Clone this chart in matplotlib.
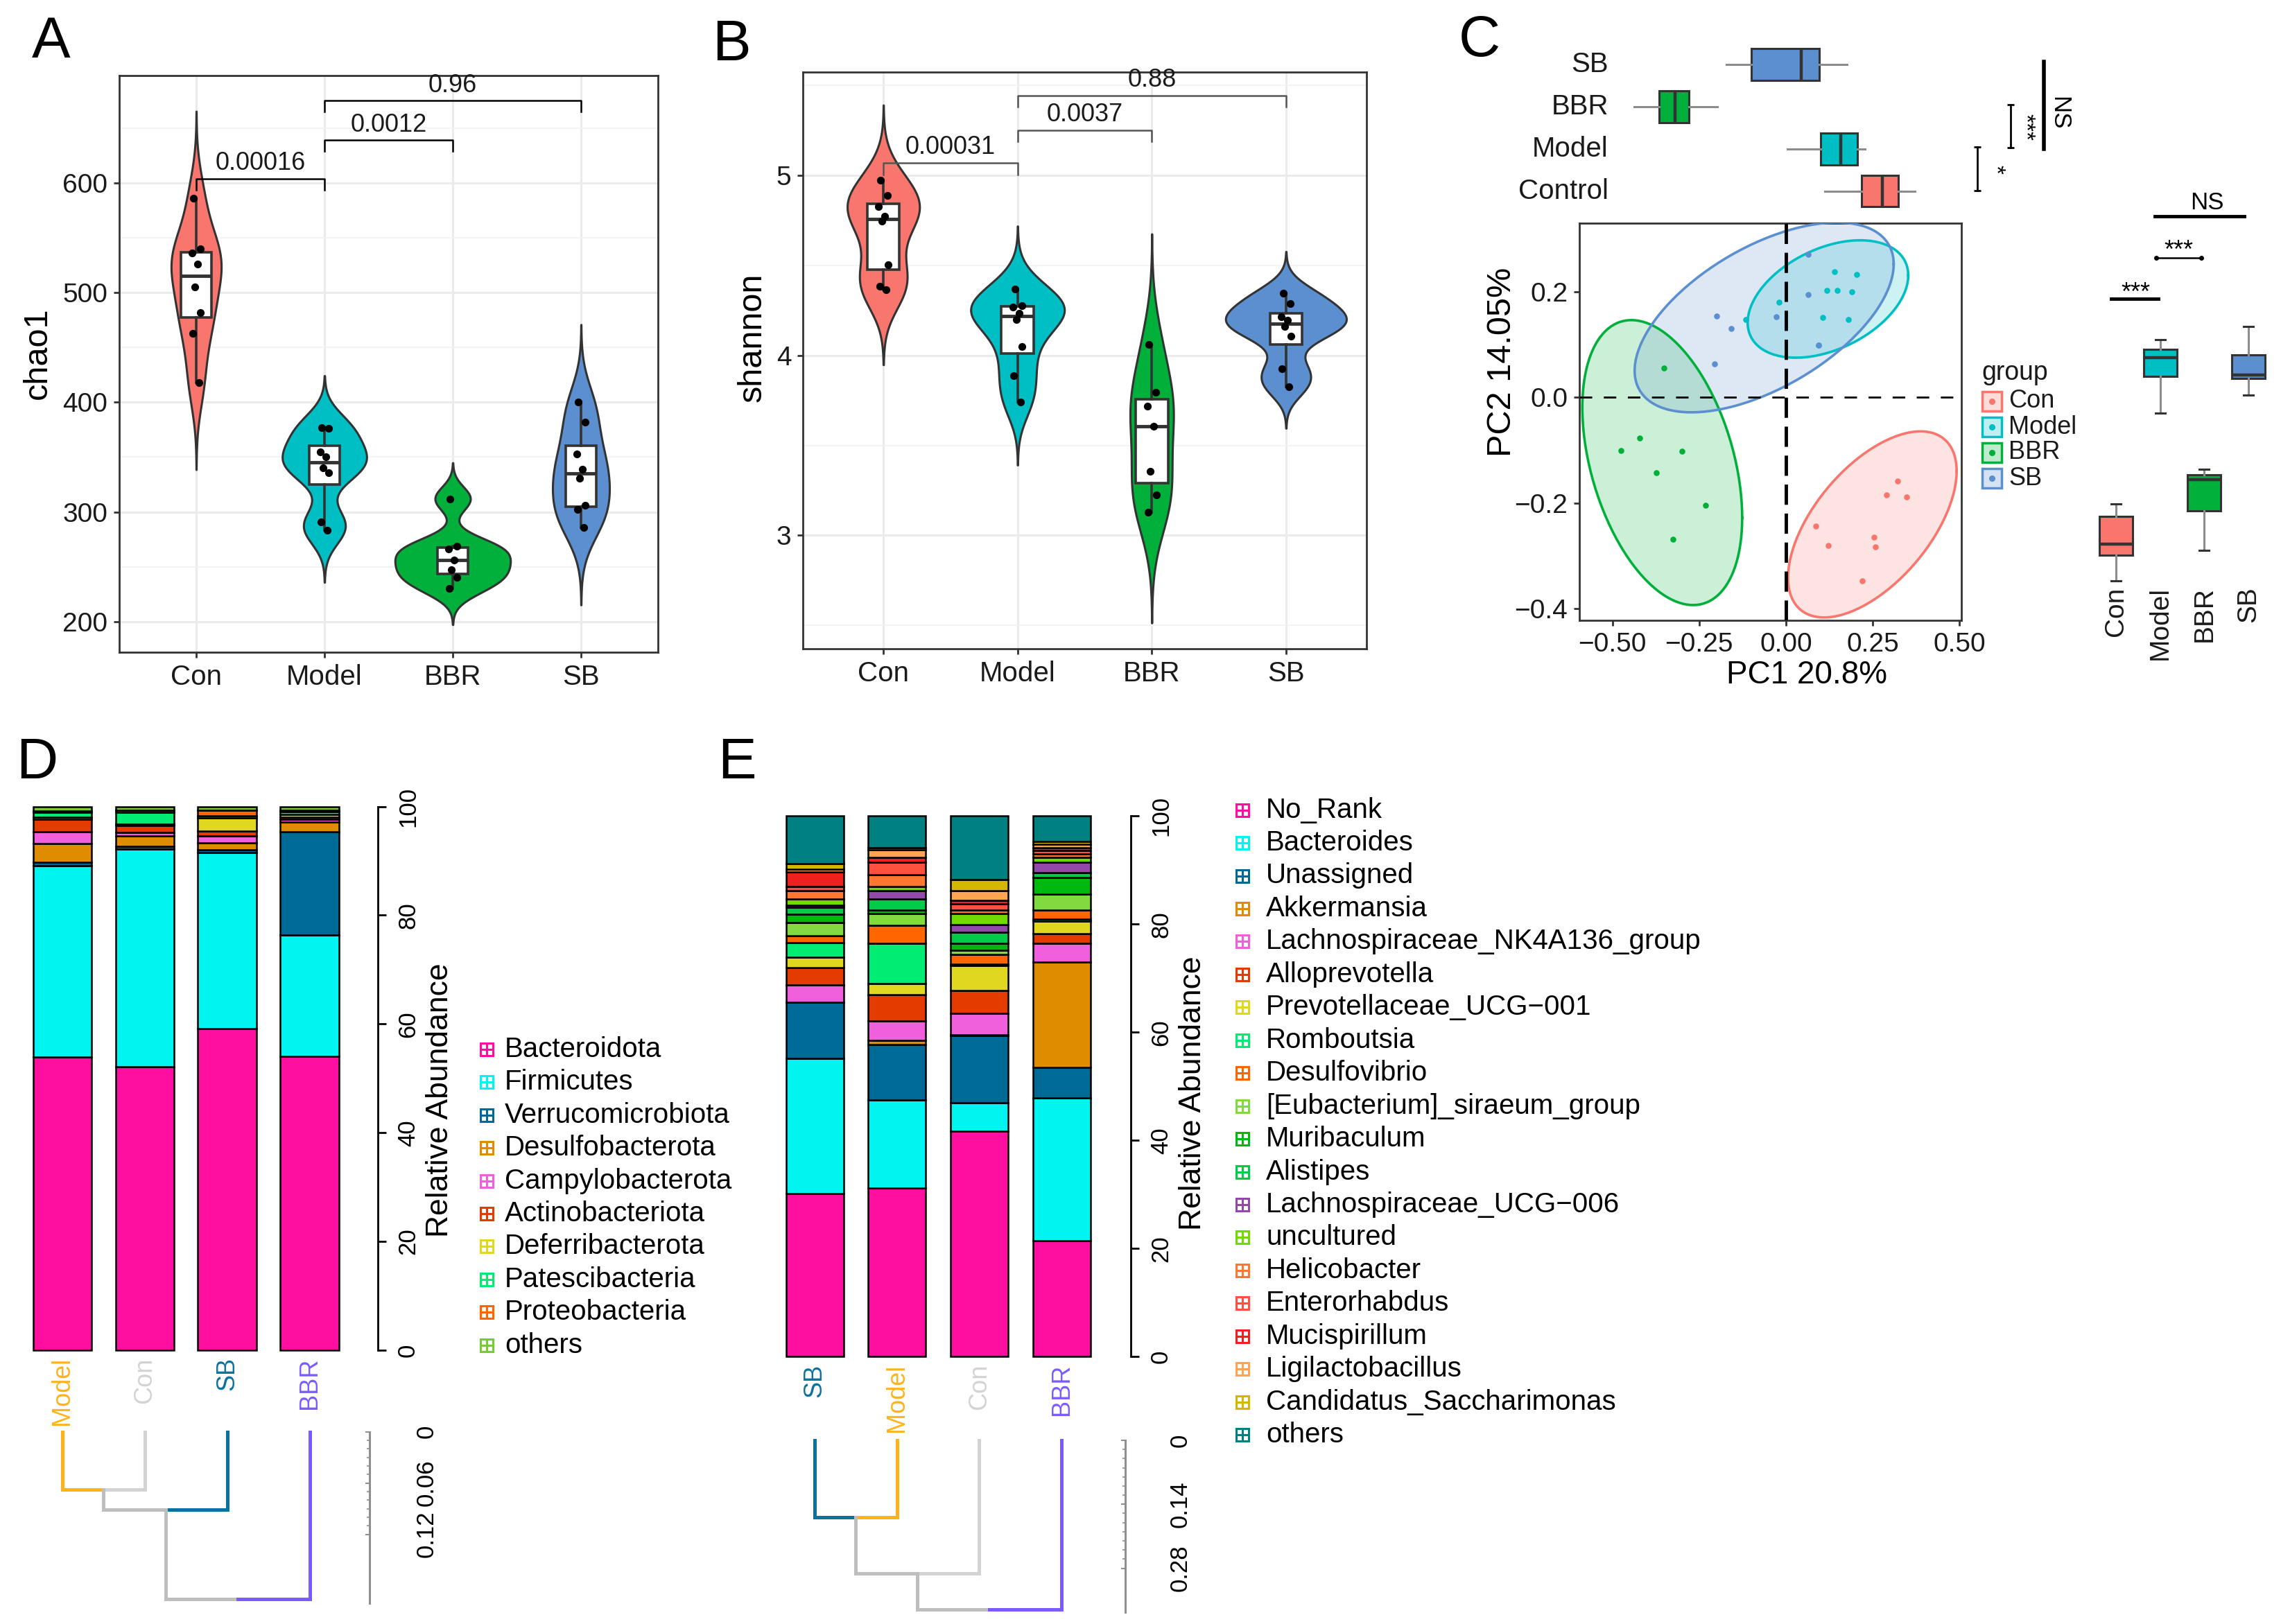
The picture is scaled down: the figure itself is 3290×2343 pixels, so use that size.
import numpy as np
import matplotlib.pyplot as plt
from matplotlib.patches import Rectangle
from matplotlib.transforms import blended_transform_factory

plt.rcParams['font.family'] = ['Liberation Sans', 'DejaVu Sans']
plt.rcParams['axes.unicode_minus'] = True

W, H = 3290, 2343
DPI = 100

# ---------------- A / B : alpha diversity ----------------
groups = ['Con', 'Model', 'BBR', 'SB']
grp_colors = ['#F8766D', '#00BFC4', '#00B03B', '#5B8FD0']

chao1_con = [586, 540, 536, 526, 505, 482, 463, 418]
chao1_model = [377, 376, 355, 350, 340, 336, 291, 283]
chao1_bbr = [312, 269, 266, 256, 247, 240, 230]
chao1_sb = [400, 382, 353, 339, 331, 306, 302, 286]

shannon_con = [4.975, 4.889, 4.827, 4.773, 4.745, 4.506, 4.383, 4.365]
shannon_model = [4.37, 4.276, 4.271, 4.235, 4.2, 4.05, 3.889, 3.74]
shannon_bbr = [4.062, 3.795, 3.72, 3.605, 3.358, 3.226, 3.127]
shannon_sb = [4.346, 4.289, 4.217, 4.197, 4.16, 4.106, 3.926, 3.827]

# (group i, group j, bracket height, p value)
chao1_tests = [(1, 2, 604, '0.00016'), (2, 3, 639, '0.0012'), (2, 4, 675, '0.96')]
shannon_tests = [(1, 2, 5.069, '0.00031'), (2, 3, 5.252, '0.0037'), (2, 4, 5.444, '0.88')]

# ---------------- C : PCoA ----------------
pc_con_x = [0.321, 0.290, 0.347, 0.086, 0.121, 0.253, 0.258, 0.220]
pc_con_y = [-0.158, -0.184, -0.189, -0.244, -0.280, -0.265, -0.283, -0.347]
pc_model_x = [0.139, 0.204, 0.118, 0.147, 0.190, -0.021, 0.106, -0.116, 0.179, 0.093]
pc_model_y = [0.238, 0.233, 0.203, 0.203, 0.200, 0.180, 0.152, 0.147, 0.147, 0.099]
pc_bbr_x = [-0.352, -0.421, -0.475, -0.299, -0.373, -0.231, -0.325]
pc_bbr_y = [0.056, -0.077, -0.100, -0.102, -0.142, -0.204, -0.268]
pc_sb_x = [0.063, 0.063, -0.200, -0.028, -0.157, -0.205, 0.093]
pc_sb_y = [0.271, 0.195, 0.154, 0.153, 0.130, 0.064, 0.099]

# marginal boxplots (PC1 on top, PC2 at right)
pc1_box_groups = ['Control', 'Model', 'BBR', 'SB']
pc1_whislo = [0.111, 0.003, -0.437, -0.171]
pc1_q1 = [0.217, 0.100, -0.365, -0.100]
pc1_med = [0.278, 0.157, -0.319, 0.043]
pc1_q3 = [0.324, 0.206, -0.279, 0.095]
pc1_whishi = [0.371, 0.227, -0.198, 0.175]

pc2_box_groups = ['Con', 'Model', 'BBR', 'SB']
pc2_whislo = [-0.347, -0.030, -0.290, 0.004]
pc2_q1 = [-0.299, 0.040, -0.215, 0.036]
pc2_med = [-0.278, 0.076, -0.156, 0.042]
pc2_q3 = [-0.225, 0.091, -0.147, 0.080]
pc2_whishi = [-0.201, 0.110, -0.136, 0.135]

# ---------------- D : phylum composition ----------------
d_samples = ['Model', 'Con', 'SB', 'BBR']
d_sample_colors = ['#FFB31A', '#D3D3D3', '#0B72A0', '#7B5BFF']
phylum_names = ['Bacteroidota', 'Firmicutes', 'Verrucomicrobiota', 'Desulfobacterota',
                'Campylobacterota', 'Actinobacteriota', 'Deferribacterota',
                'Patescibacteria', 'Proteobacteria', 'others']
phylum_colors = ['#FF0F9F', '#00F5F0', '#006A96', '#DF8C00', '#F060DD',
                 '#E43C00', '#E0D820', '#00EC72', '#FF6600', '#77CC33']
bacteroidota = [53.9, 52.1, 59.1, 54.1]
firmicutes = [35.2, 40.1, 32.4, 22.3]
verrucomicrobiota = [0.7, 0.5, 0.55, 18.9]
desulfobacterota = [3.4, 1.9, 1.3, 1.8]
campylobacterota = [2.1, 0.6, 1.3, 0.5]
actinobacteriota = [2.3, 1.3, 0.8, 0.5]
deferribacterota = [0.5, 0.3, 2.5, 0.5]
patescibacteria = [0.8, 2.1, 0.4, 0.4]
proteobacteria = [0.3, 0.4, 0.9, 0.3]
phylum_others = [0.8, 0.7, 0.75, 0.7]
d_tree_heights = [0.068, 0.091, 0.196]   # Model+Con, +SB, +BBR

# ---------------- E : genus composition ----------------
e_samples = ['SB', 'Model', 'Con', 'BBR']
e_sample_colors = ['#0B72A0', '#FFB31A', '#D3D3D3', '#7B5BFF']
genus_names = ['No_Rank', 'Bacteroides', 'Unassigned', 'Akkermansia',
               'Lachnospiraceae_NK4A136_group', 'Alloprevotella', 'Prevotellaceae_UCG\u2212001',
               'Romboutsia', 'Desulfovibrio', '[Eubacterium]_siraeum_group', 'Muribaculum',
               'Alistipes', 'Lachnospiraceae_UCG\u2212006', 'uncultured', 'Helicobacter',
               'Enterorhabdus', 'Mucispirillum', 'Ligilactobacillus',
               'Candidatus_Saccharimonas', 'others']
genus_colors = ['#FF0F9F', '#00F5F0', '#006A96', '#DF8C00', '#F060DD', '#E43C00',
                '#E0D820', '#00EC72', '#FF6600', '#80DA40', '#00B80E', '#00CC4A',
                '#9349AA', '#72DA00', '#FF7730', '#FF5040', '#EE2020', '#FFA552',
                '#D4B800', '#008080']
no_rank = [30.2, 31.2, 41.7, 21.4]
bacteroides = [25.0, 16.3, 5.2, 26.4]
unassigned = [10.3, 10.2, 12.5, 5.7]
akkermansia = [0.1, 0.8, 0.1, 19.5]
lachno_nk4a136 = [3.2, 3.6, 4.0, 3.4]
alloprevotella = [3.1, 4.8, 4.2, 1.8]
prevotellaceae_ucg001 = [2.0, 2.1, 4.7, 2.4]
romboutsia = [2.7, 7.4, 0.2, 0.3]
desulfovibrio = [1.2, 3.4, 1.8, 1.7]
eubacterium_siraeum = [2.5, 2.1, 0.8, 3.0]
muribaculum = [1.5, 0.7, 1.2, 3.0]
alistipes = [1.3, 2.1, 2.1, 0.9]
lachno_ucg006 = [0.4, 1.5, 1.4, 1.9]
uncultured = [1.1, 0.8, 2.0, 1.0]
helicobacter = [1.6, 2.2, 0.7, 0.6]
enterorhabdus = [0.7, 2.2, 1.2, 0.6]
mucispirillum = [2.7, 1.0, 0.6, 0.6]
ligilactobacillus = [0.6, 1.3, 1.8, 0.6]
candidatus_saccharimonas = [1.0, 0.5, 2.1, 0.5]
genus_others = [8.8, 5.8, 11.7, 4.7]
e_tree_heights = [0.169, 0.291, 0.370]   # SB+Model, +Con, +BBR

# F(0.95; 2, n-1) for the stat_ellipse radius, keyed by n
f95 = {6: 5.786, 7: 5.143, 8: 4.737, 9: 4.459, 10: 4.256}

fig = plt.figure(figsize=(W / DPI, H / DPI), dpi=DPI)


def add_ax(left, top, right, bottom, **kw):
    return fig.add_axes([left / W, 1 - bottom / H, (right - left) / W, (bottom - top) / H], **kw)


jitter = np.array([-0.02, 0.03, -0.035, 0.012, -0.01, 0.035, -0.028, 0.02])


def alpha_panel(ax, data, ylim, major, minor, tests, tip, br_color, ylabel, label_xy):
    ax.set_xlim(0.4, 4.6)
    ax.set_ylim(*ylim)
    ax.set_xticks(range(1, 5))
    ax.set_xticklabels(groups)
    ax.set_yticks(major)
    ax.set_yticks(minor, minor=True)
    ax.grid(True, which='major', color='#EBEBEB', lw=2.2)
    ax.grid(True, which='minor', axis='y', color='#F2F2F2', lw=1.3)
    ax.set_axisbelow(True)

    # violins: gaussian kde, bw.nrd0, tails to 3 bw, equal area scaling
    dens = []
    for vals in data:
        v = np.asarray(vals, float)
        q25, q75 = np.percentile(v, [25, 75])
        bw = 0.9 * min(v.std(ddof=1), (q75 - q25) / 1.34) * len(v) ** -0.2
        yy = np.linspace(v.min() - 3 * bw, v.max() + 3 * bw, 512)
        k = np.exp(-0.5 * ((yy[:, None] - v[None, :]) / bw) ** 2).sum(1) / (len(v) * bw * np.sqrt(2 * np.pi))
        dens.append((yy, k))
    kmax = max(k.max() for _, k in dens)
    for i, (yy, k) in enumerate(dens):
        half = 0.45 * k / kmax
        ax.fill_betweenx(yy, i + 1 - half, i + 1 + half, facecolor=grp_colors[i],
                         edgecolor='#333333', lw=2.2, zorder=2)

    ax.boxplot(data, positions=range(1, 5), widths=0.24, showfliers=False, showcaps=False,
               patch_artist=True, manage_ticks=False, zorder=3,
               boxprops=dict(facecolor='white', edgecolor='#333333', lw=2.6),
               medianprops=dict(color='#333333', lw=3.5),
               whiskerprops=dict(color='#333333', lw=2.6))
    for i, vals in enumerate(data):
        ax.scatter(i + 1 + jitter[:len(vals)], vals, s=65, color='black', lw=0, zorder=4)

    for x1, x2, y, txt in tests:
        ax.plot([x1, x1, x2, x2], [y - tip, y, y, y - tip], color=br_color, lw=1.8, zorder=5)
        ax.text((x1 + x2) / 2, y + tip * 0.3, txt, ha='center', va='bottom', fontsize=26, color='#1A1A1A')

    for s in ax.spines.values():
        s.set_color('#333333')
        s.set_linewidth(2)
    ax.tick_params(which='major', length=6, width=2, color='#333333', labelcolor='#1A1A1A', pad=6)
    ax.tick_params(which='minor', length=0)
    ax.tick_params(axis='y', labelsize=28)
    ax.tick_params(axis='x', labelsize=29)
    ax.set_ylabel(ylabel, fontsize=35)
    ax.yaxis.set_label_coords(*label_xy)


axA = add_ax(172, 109, 949, 941)
alpha_panel(axA, [chao1_con, chao1_model, chao1_bbr, chao1_sb], (172, 698),
            [200, 300, 400, 500, 600], [250, 350, 450, 550, 650],
            chao1_tests, 10, 'black', 'chao1', (-0.122, 0.518))

axB = add_ax(1158, 104, 1971, 936)
alpha_panel(axB, [shannon_con, shannon_model, shannon_bbr, shannon_sb], (2.37, 5.575),
            [3, 4, 5], [2.5, 3.5, 4.5, 5.5],
            shannon_tests, 0.063, '#555555', 'shannon', (-0.062, 0.54))


# ---------------- C ----------------
def cov_trob(pts, nu=5, maxit=25, tol=0.01):
    n, p = pts.shape
    loc = pts.mean(0)
    w = np.ones(n)
    X = pts - loc
    for _ in range(maxit):
        w0 = w
        X = pts - loc
        M = (X * w[:, None]).T @ X / w.sum()
        Q = np.einsum('ij,jk,ik->i', X, np.linalg.inv(M), X)
        w = (nu + p) / (nu + Q)
        loc = (w[:, None] * pts).sum(0) / w.sum()
        if np.all(np.abs(w - w0) < tol):
            break
    cov = (X * w[:, None]).T @ X / n
    return loc, cov


axC = add_ax(2278, 322, 2829, 895)
axC.set_xlim(-0.595, 0.505)
axC.set_ylim(-0.422, 0.33)
pc_sets = [(pc_con_x, pc_con_y), (pc_model_x, pc_model_y), (pc_bbr_x, pc_bbr_y), (pc_sb_x, pc_sb_y)]
theta = np.linspace(0, 2 * np.pi, 200)
circle = np.column_stack([np.cos(theta), np.sin(theta)])
for (px, py), col in zip(pc_sets, grp_colors):
    pts = np.column_stack([px, py])
    center, shape = cov_trob(pts)
    radius = np.sqrt(2 * f95[len(px)])
    ell = center + radius * circle @ np.linalg.cholesky(shape).T
    axC.fill(ell[:, 0], ell[:, 1], facecolor=col, alpha=0.2, lw=0, zorder=2)
    axC.plot(ell[:, 0], ell[:, 1], color=col, lw=2.6, zorder=3)
axC.axvline(0, color='black', lw=3.5, ls=(0, (6, 2.6)), zorder=4)
axC.axhline(0, color='black', lw=2, ls=(0, (6.5, 6)), zorder=4)
for (px, py), col in zip(pc_sets, grp_colors):
    axC.scatter(px, py, s=38, color=col, lw=0, zorder=5)
xt = [-0.5, -0.25, 0, 0.25, 0.5]
yt = [-0.4, -0.2, 0, 0.2]
axC.set_xticks(xt)
axC.set_xticklabels([f'{t:.2f}'.replace('-', '\u2212') for t in xt])
axC.set_yticks(yt)
axC.set_yticklabels([f'{t:.1f}'.replace('-', '\u2212') for t in yt])
for s in axC.spines.values():
    s.set_color('#333333')
    s.set_linewidth(2)
axC.tick_params(length=6, width=2, color='#333333', labelcolor='#1A1A1A', labelsize=28, pad=6)
axC.set_xlabel('PC1 20.8%', fontsize=33)
axC.xaxis.set_label_coords(0.595, -0.1)
axC.set_ylabel('PC2 14.05%', fontsize=35)
axC.yaxis.set_label_coords(-0.162, 0.65)


def draw_boxes(ax, stats_cols, orientation, caps):
    stats = [dict(whislo=a, q1=b, med=c, q3=d, whishi=e, fliers=[])
             for a, b, c, d, e in zip(*stats_cols)]
    kw = dict(positions=[1, 2, 3, 4], widths=0.75, patch_artist=True, showfliers=False,
              showcaps=caps, capwidths=0.22,
              boxprops=dict(edgecolor='#333333', lw=2.2),
              medianprops=dict(color='#333333', lw=3.2),
              whiskerprops=dict(color='#8C8C8C', lw=2.2),
              capprops=dict(color='#333333', lw=2.2), manage_ticks=False)
    try:
        bp = ax.bxp(stats, orientation=orientation, **kw)
    except TypeError:
        bp = ax.bxp(stats, vert=(orientation == 'vertical'), **kw)
    return bp


axT = add_ax(2278, 62.6, 2829, 306, sharex=axC)
axT.set_ylim(0.5, 4.5)
bpT = draw_boxes(axT, [pc1_whislo, pc1_q1, pc1_med, pc1_q3, pc1_whishi], 'horizontal', False)
for patch, col in zip(bpT['boxes'], grp_colors):
    patch.set_facecolor(col)
for i, name in enumerate(pc1_box_groups):
    axT.text(0.076, i + 1, name, transform=blended_transform_factory(axT.transAxes, axT.transData),
             ha='right', va='center', fontsize=29, color='#1A1A1A')
axT.axis('off')

axR = add_ax(3020, 322, 3275, 895, sharey=axC)
axR.set_xlim(0.5, 4.5)
bpR = draw_boxes(axR, [pc2_whislo, pc2_q1, pc2_med, pc2_q3, pc2_whishi], 'vertical', True)
for patch, col in zip(bpR['boxes'], grp_colors):
    patch.set_facecolor(col)
for s in axR.spines.values():
    s.set_visible(False)
axR.tick_params(axis='y', left=False, labelleft=False)
axR.set_xticks([1, 2, 3, 4])
axR.set_xticklabels(pc2_box_groups, rotation=90)
axR.tick_params(axis='x', length=0, labelsize=28, labelcolor='#1A1A1A', pad=-35)
for t in axR.get_xticklabels():
    t.set_va('top')


# ---------------- D / E ----------------
def stacked(ax, series, colors, width):
    bottoms = np.zeros(4)
    for vals, col in zip(series, colors):
        ax.bar(range(4), vals, bottom=bottoms, width=width, color=col,
               edgecolor='black', lw=1.8, clip_on=False, zorder=2)
        bottoms += np.asarray(vals)
    ax.set_ylim(0, 100)
    ax.set_xticks([])
    for side in ['top', 'left', 'bottom']:
        ax.spines[side].set_visible(False)
    ax.spines['right'].set_bounds(0, 100)
    ax.spines['right'].set_linewidth(2)
    ax.yaxis.tick_right()
    ax.set_yticks([0, 20, 40, 60, 80, 100])
    ax.tick_params(axis='y', length=8.5, width=2, labelsize=25, pad=11, labelrotation=90)
    for t in ax.get_yticklabels():
        t.set_va('center')
    ax.patch.set_visible(False)


def name_labels(ax, names, colors):
    tr = blended_transform_factory(ax.transData, ax.transAxes)
    for i, (nm, col) in enumerate(zip(names, colors)):
        ax.text(i, -0.013, nm, transform=tr, rotation=90, ha='center', va='top',
                fontsize=26, color=col)


def dendro(ax, heights, leaf_colors, ticks, minor, labels, pad):
    inner = '#BEBEBE'
    kw = dict(lw=3.6, solid_capstyle='projecting', clip_on=False)
    px, ph, pc = 0.0, 0.0, leaf_colors[0]
    for i, h in enumerate(heights):
        r = i + 1
        ax.plot([px, px], [ph, h], color=pc, **kw)
        ax.plot([r, r], [0, h], color=leaf_colors[r], **kw)
        mid = (px + r) / 2
        ax.plot([px, mid], [h, h], color=pc, **kw)
        ax.plot([mid, r], [h, h], color=leaf_colors[r], **kw)
        px, ph, pc = mid, h, inner
    for side in ['top', 'left', 'bottom']:
        ax.spines[side].set_visible(False)
    ax.spines['right'].set_color('#8F8F8F')
    ax.spines['right'].set_linewidth(2.2)
    ax.set_xticks([])
    ax.yaxis.tick_right()
    ax.set_yticks(ticks)
    ax.set_yticklabels(labels)
    ax.set_yticks(minor, minor=True)
    ax.tick_params(axis='y', which='major', length=4, width=1.5, color='#8F8F8F',
                   labelsize=25, pad=pad, labelrotation=90, direction='in')
    ax.tick_params(axis='y', which='minor', length=3, width=1.2, color='#8F8F8F', direction='in')
    for t in ax.get_yticklabels():
        t.set_va('center')
    ax.patch.set_visible(False)


axD = add_ax(30.5, 1163.6, 545, 1948)
axD.set_xlim(-0.5, 3.824)
stacked(axD, [bacteroidota, firmicutes, verrucomicrobiota, desulfobacterota, campylobacterota,
              actinobacteriota, deferribacterota, patescibacteria, proteobacteria, phylum_others],
        phylum_colors, 0.714)
name_labels(axD, d_samples, d_sample_colors)

axDd = add_ax(30.5, 2065.5, 533, 2313)
axDd.set_xlim(-0.5, 3.723)
axDd.set_ylim(0.2006, 0)
dendro(axDd, d_tree_heights, d_sample_colors, [0, 0.06, 0.12],
       [0.01 * k for k in range(13)], ['0', '0.06', '0.12'], 47)

axE = add_ax(1115.7, 1177.3, 1631, 1957.3)
axE.set_xlim(-0.5, 3.841)
stacked(axE, [no_rank, bacteroides, unassigned, akkermansia, lachno_nk4a136, alloprevotella,
              prevotellaceae_ucg001, romboutsia, desulfovibrio, eubacterium_siraeum, muribaculum,
              alistipes, lachno_ucg006, uncultured, helicobacter, enterorhabdus, mucispirillum,
              ligilactobacillus, candidatus_saccharimonas, genus_others],
        genus_colors, 0.70)
name_labels(axE, e_samples, e_sample_colors)

axEd = add_ax(1115.7, 2078, 1623, 2326)
axEd.set_xlim(-0.5, 3.774)
axEd.set_ylim(0.3763, 0)
dendro(axEd, e_tree_heights, e_sample_colors, [0, 0.14, 0.28],
       [0.02 * k for k in range(15)], ['0', '0.14', '0.28'], 45)

# ---------------- overlay: letters, legends, annotations ----------------
ov = fig.add_axes([0, 0, 1, 1], zorder=10)
ov.set_xlim(0, W)
ov.set_ylim(H, 0)
ov.axis('off')

for letter, x, y in [('A', 46, 22), ('B', 1027, 26), ('C', 2104, 20), ('D', 23, 1062), ('E', 1035, 1062)]:
    ov.text(x, y, letter, fontsize=60, ha='left', va='top')

ov.text(635, 1587, 'Relative Abundance', rotation=90, fontsize=32, ha='center', va='center')
ov.text(1721, 1577, 'Relative Abundance', rotation=90, fontsize=32, ha='center', va='center')


def legend_block(x_key, x_text, y0, step, names, colors):
    for i, (nm, col) in enumerate(zip(names, colors)):
        y = y0 + i * step
        ov.plot(x_key, y, marker='s', ms=13, mfc='none', mec=col, mew=2.2)
        ov.plot(x_key, y, marker='+', ms=13, mew=2.2, color=col)
        ov.text(x_text, y, nm, fontsize=29, ha='left', va='center')


legend_block(702, 728, 1514, 47.4, phylum_names, phylum_colors)
legend_block(1792, 1826, 1168.6, 47.45, genus_names, genus_colors)

# C legend
ov.text(2858, 538, 'group', fontsize=27, ha='left', va='center', color='#1A1A1A')
for i, (nm, col) in enumerate(zip(groups, grp_colors)):
    y = 579 + i * 37
    ov.add_patch(Rectangle((2859, y - 14), 28, 28, facecolor=col, alpha=0.25, lw=0))
    ov.add_patch(Rectangle((2859, y - 14), 28, 28, facecolor='none', edgecolor=col, lw=2.5))
    ov.plot(2873, y, 'o', ms=5.5, color=col)
    ov.text(2897, y, nm, fontsize=26, ha='left', va='center', color='#1A1A1A')

# C significance marks (top, vertical)
ov.plot([2852, 2852], [212, 275], color='black', lw=2, marker='_', ms=7, mew=2)
ov.text(2878, 244, '*', rotation=-90, fontsize=24, ha='center', va='center')
ov.plot([2900, 2900], [151, 213], color='black', lw=2, marker='_', ms=7, mew=2)
ov.text(2921, 183, '***', rotation=-90, fontsize=24, ha='center', va='center')
ov.plot([2948, 2948], [89, 215], color='black', lw=4)
ov.text(2970, 163, 'NS', rotation=-90, fontsize=25, ha='center', va='center')
# C significance marks (right, horizontal)
ov.plot([3045, 3113], [431, 431], color='black', lw=3.5)
ov.text(3080, 423, '***', fontsize=26, ha='center', va='center')
ov.plot([3110, 3175], [372, 372], color='black', lw=1.8, marker='o', ms=4)
ov.text(3142, 362, '***', fontsize=26, ha='center', va='center')
ov.plot([3108, 3237], [312, 312], color='black', lw=3.5)
ov.text(3183, 293, 'NS', fontsize=25, ha='center', va='center')

fig.savefig('out.png', dpi=DPI)
